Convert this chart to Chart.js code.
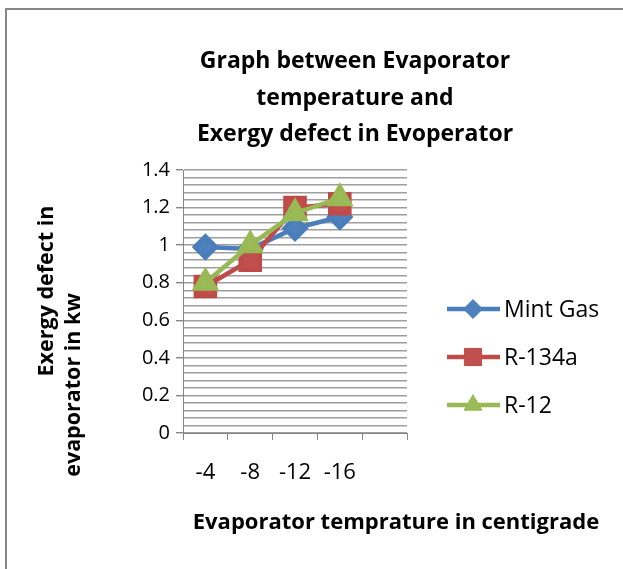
<!DOCTYPE html>
<html>
<head>
<meta charset="utf-8">
<script src="https://cdn.jsdelivr.net/npm/chart.js@4"></script>
<style>
html,body{margin:0;padding:0;background:#fff;}
#wrap{position:relative;width:623px;height:569px;overflow:hidden;}
</style>
</head>
<body>
<div id="wrap"><canvas id="c" width="623" height="569"></canvas></div>
<script>
const categories = ['-4', '-8', '-12', '-16', ''];
const mintGas = [0.99, 0.98, 1.09, 1.15];
const r134a = [0.78, 0.92, 1.20, 1.22];
const r12 = [0.80, 1.00, 1.17, 1.25];
const seriesNames = ['Mint Gas', 'R-134a', 'R-12'];
const yMajorTicks = [0, 0.2, 0.4, 0.6, 0.8, 1, 1.2, 1.4];
const yMinorStep = 0.04;
const titleLines = ['Graph between Evaporator', 'temperature and', 'Exergy defect in Evoperator'];
const xTitle = 'Evaporator temprature in centigrade';
const yTitleLines = ['Exergy defect in', 'evaporator in kw'];

const FONT = "'Open Sans', 'Liberation Sans', sans-serif";
const isMajor = v => yMajorTicks.some(m => Math.abs(m - v) < 1e-6);

const textPlugin = {
  id: 'texts',
  afterDraw(chart) {
    const ctx = chart.ctx;
    ctx.save();
    // frame
    ctx.strokeStyle = '#878787';
    ctx.lineWidth = 2;
    ctx.strokeRect(6, 9, 700, 700);
    ctx.fillStyle = '#000';
    // title
    ctx.font = 'bold 23px ' + FONT;
    ctx.textAlign = 'center';
    ctx.textBaseline = 'middle';
    const ty = [61, 98, 134];
    titleLines.forEach((t, i) => ctx.fillText(t, 355, ty[i]));
    // x title
    ctx.font = 'bold 22px ' + FONT;
    ctx.fillText(xTitle, 396, 523);
    // y title
    ctx.font = 'bold 21.5px ' + FONT;
    const yt = [[47, 291], [74, 385]];
    yTitleLines.forEach((t, i) => {
      ctx.save();
      ctx.translate(yt[i][0], yt[i][1]);
      ctx.rotate(-Math.PI / 2);
      ctx.fillText(t, 0, 0);
      ctx.restore();
    });
    // legend
    const ly = [309, 357, 405];
    chart.data.datasets.forEach((ds, i) => {
      ctx.strokeStyle = ds.borderColor;
      ctx.lineWidth = ds.borderWidth;
      ctx.beginPath();
      ctx.moveTo(447, ly[i]);
      ctx.lineTo(500, ly[i]);
      ctx.stroke();
      ctx.fillStyle = ds.pointBackgroundColor;
      ctx.strokeStyle = ds.pointBorderColor;
      ctx.lineWidth = 1;
      Chart.helpers.drawPoint(ctx, {pointStyle: ds.pointStyle, rotation: 0, borderWidth: 1, radius: ds.pointRadius * 0.9}, 473, ly[i]);
      ctx.fillStyle = '#000';
      ctx.font = '23px ' + FONT;
      ctx.textAlign = 'left';
      ctx.fillText(ds.label, 504, ly[i] + 1);
    });
    ctx.restore();
  }
};

new Chart(document.getElementById('c'), {
  type: 'line',
  data: {
    labels: categories,
    datasets: [
      {label: seriesNames[0], data: mintGas, borderColor: '#4A7EBB', pointBackgroundColor: '#4F81BD', pointBorderColor: '#4A7EBB', pointStyle: 'rectRot', pointRadius: 10.5, borderWidth: 4.5, order: 2},
      {label: seriesNames[1], data: r134a, borderColor: '#BE4B48', pointBackgroundColor: '#C0504D', pointBorderColor: '#BE4B48', pointStyle: 'rect', pointRadius: 13.5, borderWidth: 4.5, order: 1},
      {label: seriesNames[2], data: r12, borderColor: '#98B954', pointBackgroundColor: '#9BBB59', pointBorderColor: '#98B954', pointStyle: 'triangle', pointRadius: 11.5, borderWidth: 4.5, order: 0}
    ]
  },
  options: {
    responsive: false,
    animation: false,
    events: [],
    layout: {padding: {left: 113, top: 170, right: 216, bottom: 86}},
    plugins: {legend: {display: false}, title: {display: false}, tooltip: {enabled: false}},
    elements: {line: {tension: 0}, point: {borderWidth: 1, hoverRadius: 0}},
    scales: {
      x: {
        type: 'category',
        offset: true,
        afterFit(s) { s.height = 50; },
        grid: {offset: true, drawOnChartArea: false, drawTicks: true, tickLength: 7, color: '#878787', tickColor: '#878787'},
        border: {display: true, color: '#878787', width: 1},
        ticks: {color: '#000', font: {family: FONT, size: 22}, padding: 20, maxRotation: 0, autoSkip: false}
      },
      y: {
        min: 0,
        max: 1.4,
        afterFit(s) { s.width = 70; },
        afterBuildTicks(s) {
          const t = [];
          const n = Math.round((yMajorTicks[yMajorTicks.length - 1] - yMajorTicks[0]) / yMinorStep);
          for (let i = 0; i <= n; i++) t.push({value: +(yMajorTicks[0] + i * yMinorStep).toFixed(4)});
          s.ticks = t;
        },
        grid: {
          color: '#9E9E9E',
          lineWidth: 1.4,
          tickLength: 7,
          tickColor: c => (c.tick && isMajor(c.tick.value)) ? '#878787' : 'rgba(0,0,0,0)'
        },
        border: {display: true, color: '#878787', width: 1},
        ticks: {
          color: '#000',
          font: {family: FONT, size: 20},
          padding: 6,
          autoSkip: false,
          callback: v => isMajor(v) ? String(+v.toFixed(1)) : ''
        }
      }
    }
  },
  plugins: [textPlugin]
});
</script>
</body>
</html>
